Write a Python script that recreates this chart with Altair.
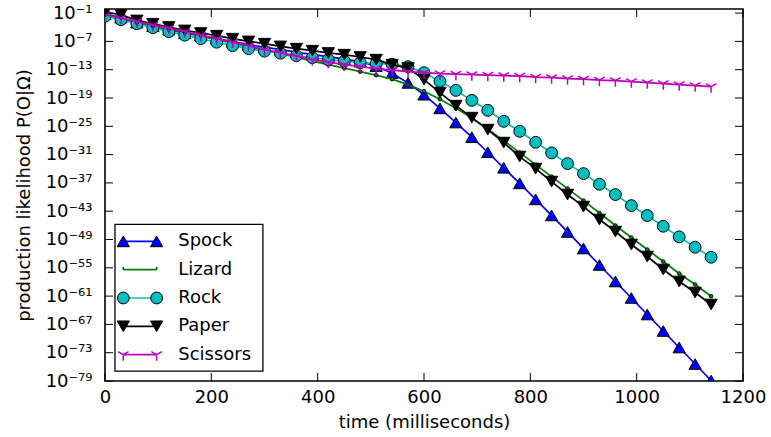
import altair as alt
import pandas as pd

# ---------------- data ----------------
times = list(range(0, 1141, 30))  # milliseconds

series_names = ["Spock", "Lizard", "Rock", "Paper", "Scissors"]

# log10 of production likelihood
spock_exp = [-1.23, -1.97, -3.03, -3.78, -4.52, -5.26, -5.79, -6.42, -7.06, -7.69,
             -8.22, -8.75, -9.28, -9.81, -10.24, -10.77, -11.30, -12.25, -13.73, -15.8,
             -18.3, -21.2, -24.2, -27.3, -30.5, -33.8, -37.1, -40.5, -43.9, -47.4,
             -50.9, -54.4, -57.9, -61.4, -64.9, -68.4, -71.9, -75.4, -78.9]
lizard_exp = [-1.34, -2.08, -2.93, -3.67, -4.41, -5.15, -5.89, -6.64, -7.38, -8.12,
              -8.86, -9.60, -10.34, -11.19, -11.93, -12.67, -13.42, -14.16, -15.00, -16.17,
              -17.55, -19.24, -21.15, -23.27, -25.60, -28.03, -30.58, -33.12, -35.66, -38.20,
              -40.75, -43.39, -46.04, -48.58, -51.13, -53.67, -56.21, -58.54, -61.02]
rock_exp = [-1.66, -2.40, -3.25, -4.09, -4.94, -5.68, -6.42, -7.17, -7.91, -8.54,
            -9.07, -9.50, -10.03, -10.45, -10.87, -11.19, -11.51, -11.72, -11.83, -12.36,
            -13.63, -15.47, -17.38, -19.50, -21.61, -23.94, -26.06, -28.39, -30.64, -32.91,
            -35.03, -37.29, -39.47, -41.81, -43.92, -46.19, -48.44, -50.64, -52.76]
paper_exp = [-0.81, -1.34, -2.55, -3.25, -3.94, -4.67, -5.22, -5.79, -6.42, -7.00,
             -7.48, -8.06, -8.54, -8.97, -9.45, -9.81, -10.30, -10.87, -11.93, -12.67,
             -15.11, -17.86, -20.62, -23.16, -25.70, -28.45, -31.42, -33.97, -36.72, -39.47,
             -42.02, -44.77, -47.31, -50.07, -52.61, -55.36, -57.90, -60.24, -62.78]
scissors_exp = [-1.34, -2.08, -2.82, -3.56, -4.20, -4.94, -5.68, -6.42, -7.17, -7.91,
                -8.75, -9.39, -10.13, -10.87, -11.40, -11.93, -12.36, -12.78, -13.10, -13.42,
                -13.63, -13.84, -13.94, -14.05, -14.16, -14.26, -14.37, -14.58, -14.69, -14.90,
                -15.00, -15.22, -15.32, -15.53, -15.75, -15.96, -16.17, -16.38, -16.59]

x_ticks = [0, 200, 400, 600, 800, 1000, 1200]
y_tick_exps = [-1, -7, -13, -19, -25, -31, -37, -43, -49, -55, -61, -67, -73, -79]
y_tick_labels = ["10⁻¹", "10⁻⁷", "10⁻¹³", "10⁻¹⁹", "10⁻²⁵", "10⁻³¹", "10⁻³⁷",
                 "10⁻⁴³", "10⁻⁴⁹", "10⁻⁵⁵", "10⁻⁶¹", "10⁻⁶⁷", "10⁻⁷³", "10⁻⁷⁹"]

# ---------------- styling ----------------
FONT = "DejaVu Sans"
W, H = 638, 372
TRI_DOWN = "M0,0L0,1M0,0L-0.866,-0.5M0,0L0.866,-0.5"
LIZARD_TICK = "M0,0L0,-1"

styles = {
    "Spock":    dict(color="#0000ff", shape="triangle-up", size=150, fill="#0000ff", stroke="black", sw=1.0),
    "Lizard":   dict(color="#008000", shape="circle", size=14, fill="#008000", stroke="black", sw=0.8),
    "Rock":     dict(color="#00bfbf", shape="circle", size=140, fill="#00bfbf", stroke="black", sw=1.0),
    "Paper":    dict(color="#000000", shape="triangle-down", size=150, fill="#000000", stroke="black", sw=1.0),
    "Scissors": dict(color="#bf00bf", shape=TRI_DOWN, size=150, fill="none", stroke="#bf00bf", sw=1.5),
}
series_exps = {"Spock": spock_exp, "Lizard": lizard_exp, "Rock": rock_exp,
               "Paper": paper_exp, "Scissors": scissors_exp}

label_expr = ":".join(
    f"round(log(datum.value)/LN10)=={e}?'{lab}'" for e, lab in zip(y_tick_exps, y_tick_labels)
) + ":''"

xenc = alt.X("t:Q",
             scale=alt.Scale(domain=[0, 1200], nice=False, zero=False),
             axis=alt.Axis(values=x_ticks, format="d", title="time (milliseconds)", grid=False,
                           ticks=False, tickSize=0, domain=False,
                           labelFont=FONT, labelFontSize=18, labelColor="black",
                           labelPadding=7, labelFlush=False,
                           titleFont=FONT, titleFontSize=18, titleFontWeight="normal",
                           titleColor="black", titlePadding=7))
yenc = alt.Y("v:Q",
             scale=alt.Scale(type="log", domain=[1e-79, 10 ** -0.13], nice=False),
             axis=alt.Axis(values=[10.0 ** e for e in y_tick_exps], labelExpr=label_expr,
                           title="production likelihood P(O|Ω)", grid=False,
                           ticks=False, tickSize=0, domain=False,
                           labelFont=FONT, labelFontSize=18, labelColor="black",
                           labelPadding=13, labelFlush=False,
                           titleFont=FONT, titleFontSize=18, titleFontWeight="normal",
                           titleColor="black", titlePadding=12))

layers = []

# ---------------- series ----------------
for name in series_names:
    st = styles[name]
    d = pd.DataFrame({"t": times, "v": [10.0 ** e for e in series_exps[name]]})
    base = alt.Chart(d)
    layers.append(base.mark_line(color=st["color"], strokeWidth=1.7, clip=True)
                  .encode(x=xenc, y=yenc))
    layers.append(base.mark_point(shape=st["shape"], size=st["size"], filled=True,
                                  fill=st["fill"], stroke=st["stroke"], strokeWidth=st["sw"],
                                  opacity=1, clip=True)
                  .encode(x=xenc, y=yenc))

# ---------------- inward ticks on all four sides ----------------
ytk = pd.DataFrame({"v": [10.0 ** e for e in y_tick_exps]})
xtk = pd.DataFrame({"t": x_ticks})
TK = 8
layers.append(alt.Chart(ytk).mark_rule(color="black", strokeWidth=1)
              .encode(y=yenc, x=alt.value(0), x2=alt.value(TK)))
layers.append(alt.Chart(ytk).mark_rule(color="black", strokeWidth=1)
              .encode(y=yenc, x=alt.value(W - TK), x2=alt.value(W)))
layers.append(alt.Chart(xtk).mark_rule(color="black", strokeWidth=1)
              .encode(x=xenc, y=alt.value(H - TK), y2=alt.value(H)))
layers.append(alt.Chart(xtk).mark_rule(color="black", strokeWidth=1)
              .encode(x=xenc, y=alt.value(0), y2=alt.value(TK)))

# ---------------- legend (placed in data space) ----------------
leg_row_exp = [-49.4, -55.4, -61.4, -67.4, -73.4]
leg_box = pd.DataFrame({"t": [18.75], "t2": [297.0], "v": [10 ** -45.8], "v2": [10 ** -76.9]})
layers.append(alt.Chart(leg_box).mark_rect(fill="white", stroke="black", strokeWidth=1.3)
              .encode(x=xenc, x2="t2:Q", y=yenc, y2="v2:Q"))
for name, le in zip(series_names, leg_row_exp):
    st = styles[name]
    d = pd.DataFrame({"t": [34.4, 97.1], "v": [10.0 ** le, 10.0 ** le]})
    base = alt.Chart(d)
    layers.append(base.mark_line(color=st["color"], strokeWidth=1.7).encode(x=xenc, y=yenc))
    if name == "Lizard":
        layers.append(base.mark_point(shape=LIZARD_TICK, size=30, filled=False,
                                      stroke="#004000", strokeWidth=1.5, opacity=1)
                      .encode(x=xenc, y=yenc))
    else:
        layers.append(base.mark_point(shape=st["shape"], size=st["size"], filled=True,
                                      fill=st["fill"], stroke=st["stroke"], strokeWidth=st["sw"],
                                      opacity=1).encode(x=xenc, y=yenc))
leg_txt = pd.DataFrame({"t": [137.7] * 5, "v": [10.0 ** e for e in leg_row_exp],
                        "label": series_names})
layers.append(alt.Chart(leg_txt).mark_text(align="left", baseline="middle", font=FONT,
                                           fontSize=18, color="black")
              .encode(x=xenc, y=yenc, text="label:N"))

chart = (
    alt.layer(*layers)
    .properties(width=W, height=H,
                padding={"left": 105, "top": 9, "right": 771 - 105 - W, "bottom": 437 - 9 - H},
                autosize=alt.AutoSizeParams(type="none"),
                background="white")
    .configure_view(stroke="black", strokeWidth=1.6)
)

chart.save("out.html", embed_options={"renderer": "svg", "actions": False})
